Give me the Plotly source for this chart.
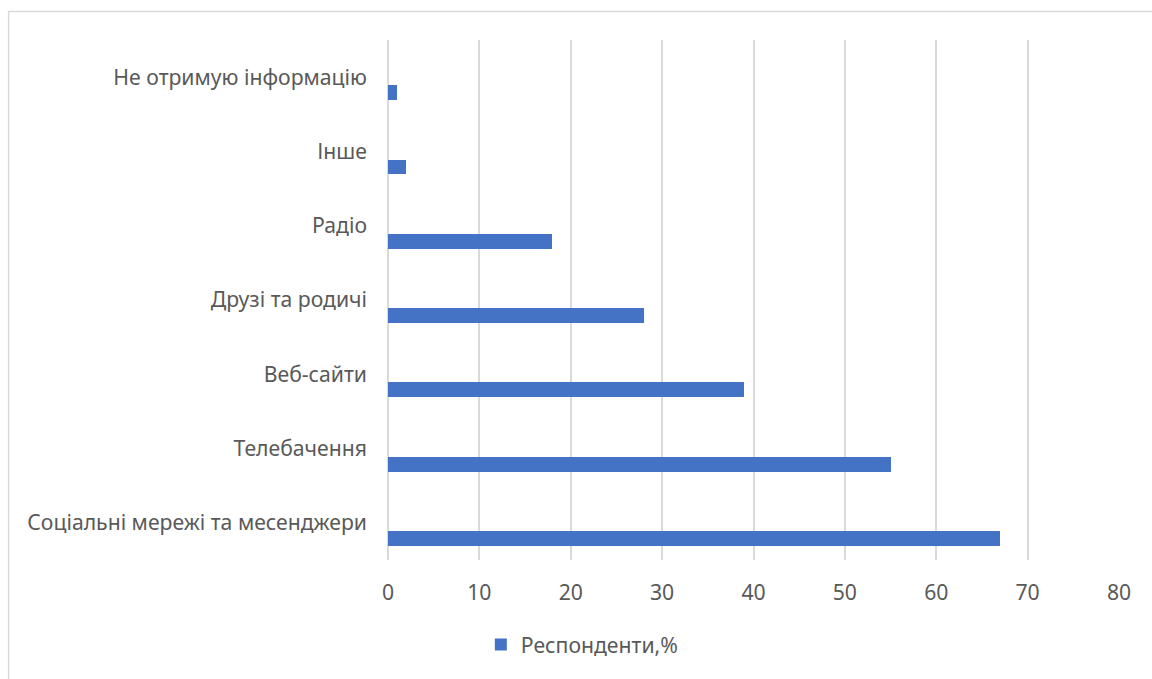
import plotly.graph_objects as go

# Information sources, listed bottom to top
categories = [
    "Соціальні мережі та месенджери",
    "Телебачення",
    "Веб-сайти",
    "Друзі та родичі",
    "Радіо",
    "Інше",
    "Не отримую інформацію",
]
respondents_pct = [67, 55, 39, 28, 18, 2, 1]
series_name = "Респонденти,%"
x_ticks = [0, 10, 20, 30, 40, 50, 60, 70, 80]

FONT = "Noto Sans"
FS = 21.2
TEXT = "#595959"
GRID = "#d9d9d9"
BAR = "#4472C4"

fig = go.Figure()
fig.add_trace(go.Bar(
    y=categories,
    x=respondents_pct,
    orientation="h",
    name=series_name,
    marker=dict(color=BAR, line=dict(width=0)),
    width=0.2,
    offset=-0.31,
    showlegend=True,
))

fig.update_layout(
    width=1152,
    height=679,
    margin=dict(l=388, r=33, t=40, b=119),
    paper_bgcolor="white",
    plot_bgcolor="white",
    font=dict(family=FONT, size=FS, color=TEXT),
    xaxis=dict(
        range=[0, 80],
        tickvals=x_ticks,
        showgrid=True,
        gridcolor=GRID,
        gridwidth=1.5,
        zeroline=True,
        zerolinecolor=GRID,
        zerolinewidth=1.5,
        showline=False,
        ticks="",
        ticklabelstandoff=18,
        tickfont=dict(family=FONT, size=FS, color=TEXT),
        fixedrange=True,
    ),
    yaxis=dict(
        type="category",
        categoryorder="array",
        categoryarray=categories,
        range=[-0.5, 6.5],
        showgrid=False,
        zeroline=False,
        showline=False,
        ticks="",
        ticklabelstandoff=20,
        tickfont=dict(family=FONT, size=FS, color=TEXT),
        fixedrange=True,
    ),
    legend=dict(
        orientation="h",
        x=0.127,
        xanchor="left",
        y=-0.163,
        yanchor="middle",
        font=dict(family=FONT, size=FS, color=TEXT),
        itemwidth=30,
    ),
    bargap=0,
)

# Chart-area frame
fig.add_shape(
    type="rect",
    xref="paper", yref="paper",
    x0=-0.519, x1=1.06, y0=-0.3, y1=1.0548,
    line=dict(color=GRID, width=1.5),
    fillcolor="rgba(0,0,0,0)",
    layer="below",
)

fig.write_html("out.html")
